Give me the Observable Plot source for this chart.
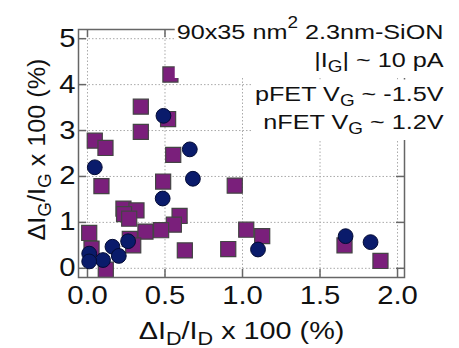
<!DOCTYPE html>
<html><head><meta charset="utf-8">
<script src="https://cdn.jsdelivr.net/npm/d3@7"></script>
<script src="https://cdn.jsdelivr.net/npm/@observablehq/plot@0.6"></script>
<style>html,body{margin:0;padding:0;background:#fff}</style>
</head><body><div id="chart"></div>
<script>
// ---- data ----
const squareX = [0.535,0.344,0.52,0.344,0.047,0.116,0.553,0.488,0.09,0.95,0.232,0.316,0.236,0.269,0.594,0.557,0.011,0.374,0.475,1.024,1.127,0.273,0.295,0.628,0.908,0.026,0.118,1.658,1.89];
const squareY = [4.22,3.52,3.25,2.97,2.78,2.62,2.47,1.89,1.79,1.80,1.30,1.26,1.18,1.08,1.14,0.95,0.77,0.80,0.83,0.84,0.70,0.64,0.50,0.39,0.42,0.43,-0.03,0.50,0.16];
const circleX = [0.49,0.66,0.047,0.68,0.485,0.262,0.161,0.202,0.10,0.011,0.011,1.10,1.665,1.826];
const circleY = [3.32,2.59,2.2,1.95,1.52,0.59,0.47,0.27,0.18,0.32,0.15,0.41,0.70,0.57];
const xTicks = [0, 0.5, 1, 1.5, 2];
const yTicks = [0, 1, 2, 3, 4, 5];
const xLabel = "ΔI_{D}/I_{D} x 100 (%)";
const yLabel = "ΔI_{G}/I_{G} x 100 (%)";
const notesA = ["90x35 nm^{2} 2.3nm-SiON", "|I_{G}| ~ 10 pA"];
const notesB = ["pFET V_{G} ~ -1.5V", "nFET V_{G} ~ 1.2V"];

const squares = squareX.map((x, i) => ({x, y: squareY[i]}));
const circles = circleX.map((x, i) => ({x, y: circleY[i]}));

const W = 459, H = 348, mL = 78, mR = 55, mT = 29, mB = 71;
const innerW = W - mL - mR, innerH = H - mT - mB, tk = 8;
const axisCol = "#666";
const note = (t, dy) => Plot.text([t], {text: d => d, frameAnchor: "top-right", dx: 39, dy, lineAnchor: "bottom", textAnchor: "end", fontSize: 21, fill: "#111"});

const chart = Plot.plot({
  width: W, height: H,
  marginLeft: mL, marginRight: mR, marginTop: mT, marginBottom: mB,
  style: {fontFamily: "'Liberation Sans', Arial, sans-serif", background: "#fff", color: "#111"},
  x: {domain: [-0.058, 2.045]},
  y: {domain: [-0.2, 5.2]},
  marks: [
    Plot.gridX(xTicks, {stroke: "#aaa", strokeOpacity: 1, strokeDasharray: "1.5,2"}),
    Plot.gridY(yTicks, {stroke: "#aaa", strokeOpacity: 1, strokeDasharray: "1.5,2"}),
    Plot.dot(squares, {x: "x", y: "y", symbol: "square", r: 8.5, fill: "#7a1f7b", stroke: "#444", strokeWidth: 1.2}),
    Plot.dot(circles, {x: "x", y: "y", symbol: "circle", r: 7.4, fill: "#0a1b6b", stroke: "#030b35", strokeWidth: 1}),
    Plot.frame({stroke: axisCol, strokeWidth: 1.5}),
    Plot.ruleX(xTicks, {x: d => d, insetTop: innerH - tk, stroke: axisCol, strokeWidth: 1.5}),
    Plot.ruleX(xTicks, {x: d => d, insetBottom: innerH - tk, stroke: axisCol, strokeWidth: 1.5}),
    Plot.ruleY(yTicks, {y: d => d, insetRight: innerW - tk, stroke: axisCol, strokeWidth: 1.5}),
    Plot.ruleY(yTicks, {y: d => d, insetLeft: innerW - tk, stroke: axisCol, strokeWidth: 1.5}),
    Plot.axisX(xTicks, {tickSize: 0, tickPadding: 9, tickFormat: d3.format(".1f"), fontSize: 25, label: null}),
    Plot.axisY(yTicks, {tickSize: 0, tickPadding: 3, fontSize: 25, label: null}),
    Plot.text([xLabel], {text: d => d, frameAnchor: "bottom", dy: 61, lineAnchor: "bottom", textAnchor: "middle", fontSize: 24, fill: "#111"}),
    Plot.text([yLabel], {text: d => d, frameAnchor: "left", dx: -34, dy: -4, rotate: -90, lineAnchor: "bottom", textAnchor: "middle", fontSize: 24, fill: "#111"}),
    note(notesA[0], 9), note(notesA[1], 37),
    note(notesB[0], 71), note(notesB[1], 99)
  ]
});
document.getElementById("chart").append(chart);
const svg = chart;
const NS = "http://www.w3.org/2000/svg";

// identify texts before markup
const allTexts = Array.from(svg.querySelectorAll("text"));
const grpA = allTexts.filter(t => notesA.includes(t.textContent));
const grpB = allTexts.filter(t => notesB.includes(t.textContent));
const yTitle = allTexts.find(t => t.textContent === yLabel);
const tickTexts = allTexts.filter(t => !notesA.includes(t.textContent) && !notesB.includes(t.textContent) && t.textContent !== xLabel && t.textContent !== yLabel);

// sub/superscript markup into tspans
function markup(el) {
  const s = el.textContent;
  if (!/[_^]\{/.test(s)) return;
  const fs = parseFloat(getComputedStyle(el).fontSize);
  el.textContent = "";
  const re = /([_^])\{([^}]*)\}/g;
  let last = 0, m, pending = 0;
  const add = (txt, dy, size) => {
    const t = document.createElementNS(NS, "tspan");
    t.textContent = txt;
    if (dy) t.setAttribute("dy", dy);
    if (size) t.setAttribute("font-size", size);
    el.appendChild(t);
  };
  while ((m = re.exec(s))) {
    if (m.index > last) { add(s.slice(last, m.index), pending); pending = 0; }
    const shift = m[1] === "_" ? 0.28 * fs : -0.5 * fs;
    add(m[2], pending + shift, 0.75 * fs);
    pending = -shift;
    last = re.lastIndex;
  }
  if (last < s.length) add(s.slice(last), pending);
}
allTexts.forEach(markup);

// horizontal glyph stretch to match the reference's wide lettering
allTexts.forEach(t => {
  const tr = t.getAttribute("transform");
  const k = t === yTitle ? 1.05 : tickTexts.includes(t) ? 1.17 : 1.2;
  if (tr) t.setAttribute("transform", tr + ` scale(${k},1)`);
});

// white boxes behind the annotation blocks
const sr = svg.getBoundingClientRect();
function box(els, pad) {
  let x0 = Infinity, y0 = Infinity, x1 = -Infinity, y1 = -Infinity;
  els.forEach(e => {
    const r = e.getBoundingClientRect();
    x0 = Math.min(x0, r.left - sr.left); y0 = Math.min(y0, r.top - sr.top);
    x1 = Math.max(x1, r.right - sr.left); y1 = Math.max(y1, r.bottom - sr.top);
  });
  const rect = document.createElementNS(NS, "rect");
  rect.setAttribute("x", x0 - pad); rect.setAttribute("y", y0 - pad);
  rect.setAttribute("width", x1 - x0 + 2 * pad); rect.setAttribute("height", y1 - y0 + 2 * pad);
  rect.setAttribute("fill", "#fff");
  return rect;
}
const firstG = grpA[0].closest("g");
svg.insertBefore(box(grpA, 2), firstG);
svg.insertBefore(box(grpB, 2), firstG);
</script>
</body></html>
